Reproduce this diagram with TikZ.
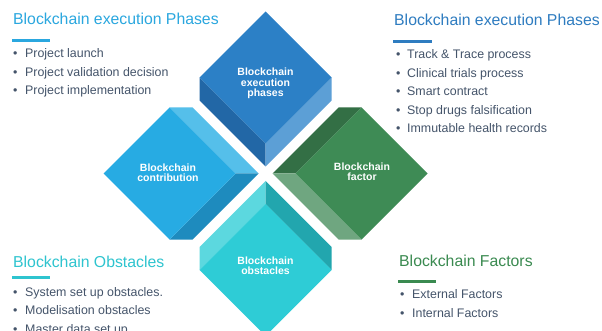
\documentclass[tikz,border=0pt]{standalone}
\usepackage{fontspec}
\setmainfont{Liberation Sans}

% palette
\definecolor{txt}{HTML}{44546A}
\definecolor{hdSky}{HTML}{2AA7DF}
\definecolor{hdBlue}{HTML}{2E7CC0}
\definecolor{hdCyan}{HTML}{2EC4CF}
\definecolor{hdGreen}{HTML}{3A8A50}
% execution phases block
\definecolor{exFace}{HTML}{2C80C6}
\definecolor{exDark}{HTML}{2267A6}
\definecolor{exLight}{HTML}{5C9FD6}
% contribution block
\definecolor{coFace}{HTML}{27ABE3}
\definecolor{coLight}{HTML}{55BFEA}
\definecolor{coDark}{HTML}{1E8BBE}
% factor block
\definecolor{faFace}{HTML}{3E8B55}
\definecolor{faDark}{HTML}{336F45}
\definecolor{faLight}{HTML}{6FA680}
% obstacles block
\definecolor{obFace}{HTML}{2ECCD6}
\definecolor{obLight}{HTML}{5CD8DF}
\definecolor{obDark}{HTML}{22A6AE}

\tikzset{
  heading/.style={anchor=base west, inner sep=0pt, font=\fontsize{15.8}{18}\selectfont},
  listitem/.style={anchor=base west, inner sep=0pt, text=txt, font=\fontsize{12.4}{14}\selectfont},
  blocklabel/.style={align=center, inner sep=0pt, text=white, font=\bfseries\fontsize{10.5}{10.5}\selectfont},
  rule/.style={line width=3pt},
}
% bullet followed by a fixed gap
\newcommand\bul[1]{\makebox[#1][l]{•}}

\begin{document}
\begin{tikzpicture}[x=1pt,y=-1pt]
\useasboundingbox (0,0) rectangle (602,331);
\clip (0,0) rectangle (602,331);
\fill[white] (0,0) rectangle (602,331);

% ---- execution phases block (top), bevels face down
\begin{scope}[shift={(265.5,77.5)}]
  \fill[exDark]  (-66,0) -- (0,66) -- (0,89) -- (-66,23) -- cycle;
  \fill[exLight] (0,66) -- (66,0) -- (66,23) -- (0,89) -- cycle;
  \fill[exFace]  (0,-66) -- (-66,0) -- (0,66) -- (66,0) -- cycle;
\end{scope}
\node[blocklabel] (bexec) at (265.5,83.5) {Blockchain\\execution\\phases};

% ---- contribution block (left), bevels face right
\begin{scope}[shift={(169.5,173.5)}]
  \fill[coLight] (0,-66) -- (66,0) -- (89,0) -- (23,-66) -- cycle;
  \fill[coDark]  (66,0) -- (0,66) -- (23,66) -- (89,0) -- cycle;
  \fill[coFace]  (0,-66) -- (-66,0) -- (0,66) -- (66,0) -- cycle;
\end{scope}
\node[blocklabel] (bcontrib) at (168,172.5) {Blockchain\\contribution};

% ---- factor block (right), bevels face left
\begin{scope}[shift={(361.5,173.5)}]
  \fill[faDark]  (0,-66) -- (-66,0) -- (-89,0) -- (-23,-66) -- cycle;
  \fill[faLight] (-66,0) -- (0,66) -- (-23,66) -- (-89,0) -- cycle;
  \fill[faFace]  (0,-66) -- (-66,0) -- (0,66) -- (66,0) -- cycle;
\end{scope}
\node[blocklabel] (bfactor) at (362,171.5) {Blockchain\\factor};

% ---- obstacles block (bottom), bevels face up
\begin{scope}[shift={(265.5,270)}]
  \fill[obLight] (-66,0) -- (0,-66) -- (0,-89) -- (-66,-23) -- cycle;
  \fill[obDark]  (0,-66) -- (66,0) -- (66,-23) -- (0,-89) -- cycle;
  \fill[obFace]  (0,-66) -- (-66,0) -- (0,66) -- (66,0) -- cycle;
\end{scope}
\node[blocklabel] (bobst) at (265.5,265.5) {Blockchain\\obstacles};

% ---- top left list
\node[heading, text=hdSky] (hTL) at (13,25) {Blockchain execution Phases};
\draw[rule, hdSky] (12,40.5) -- (50,40.5);
\node[listitem] (tl1) at (12.8,58)   {\bul{12.2pt}Project launch};
\node[listitem] (tl2) at (12.8,76.5) {\bul{12.2pt}Project validation decision};
\node[listitem] (tl3) at (12.8,95)   {\bul{12.2pt}Project implementation};

% ---- top right list
\node[heading, text=hdBlue] (hTR) at (394,26) {Blockchain execution Phases};
\draw[rule, hdBlue] (393,41.5) -- (432,41.5);
\node[listitem] (tr1) at (395.8,59)   {\bul{11.2pt}Track \& Trace process};
\node[listitem] (tr2) at (395.8,77.5) {\bul{11.2pt}Clinical trials process};
\node[listitem] (tr3) at (395.8,96)   {\bul{11.2pt}Smart contract};
\node[listitem] (tr4) at (395.8,114.5){\bul{11.2pt}Stop drugs falsification};
\node[listitem] (tr5) at (395.8,133)  {\bul{11.2pt}Immutable health records};

% ---- bottom left list
\node[heading, text=hdCyan] (hBL) at (13,267) {Blockchain Obstacles};
\draw[rule, hdCyan] (12,277.5) -- (50,277.5);
\node[listitem] (bl1) at (12.8,296)   {\bul{12.2pt}System set up obstacles.};
\node[listitem] (bl2) at (12.8,314.5) {\bul{12.2pt}Modelisation obstacles};
\node[listitem] (bl3) at (12.8,333)   {\bul{12.2pt}Master data set up};

% ---- bottom right list
\node[heading, text=hdGreen] (hBR) at (399,266.5) {Blockchain Factors};
\draw[rule, hdGreen] (398,281.5) -- (436,281.5);
\node[listitem] (br1) at (399.8,298.5) {\bul{12.2pt}External Factors};
\node[listitem] (br2) at (399.8,317)   {\bul{12.2pt}Internal Factors};
\end{tikzpicture}
\end{document}
